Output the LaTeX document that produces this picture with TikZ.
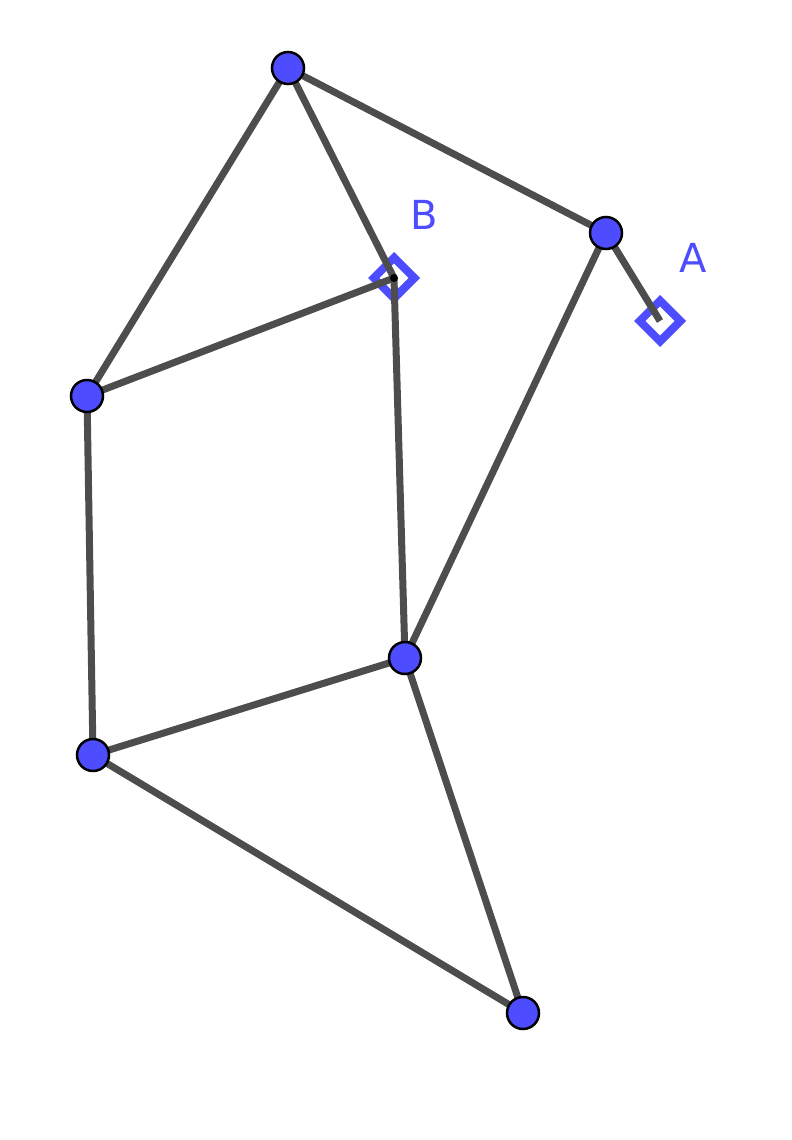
\documentclass[tikz,border=0pt]{standalone}
\usepackage{fontspec}
\setmainfont{DejaVu Sans}
\usetikzlibrary{shapes.geometric}
\definecolor{pt}{HTML}{4D4DFF}
\definecolor{ed}{HTML}{4D4D4D}
\tikzset{
  vert/.style={circle,fill=pt,draw=black,line width=2.5pt,minimum size=32pt,inner sep=0pt},
  dia/.style={diamond,draw=pt,fill=white,line width=8pt,minimum size=44pt,inner sep=0pt},
  edge/.style={draw=ed,line width=7pt},
  lab/.style={text=pt,font=\fontsize{40}{40}\selectfont}
}
\begin{document}
\begin{tikzpicture}[x=1pt,y=-1pt]
\useasboundingbox (0,0) rectangle (792,1140);
\coordinate (T) at (288,68);
\coordinate (R) at (606,233);
\coordinate (L) at (87,396);
\coordinate (M) at (405,658);
\coordinate (BL) at (93,755);
\coordinate (Bo) at (523,1013);
\coordinate (A) at (660,321);
\coordinate (B) at (394,278);
\node[dia] (Ad) at (A) {};
\node[dia] (Bd) at (B) {};
\foreach \a/\b in {T/L,T/R,T/B,B/L,B/M,R/M,R/A,L/BL,BL/M,BL/Bo,M/Bo}
  \draw[edge] (\a) -- (\b);
\fill[black] (B) circle (4pt);
\foreach \n in {T,R,L,M,BL,Bo} \node[vert] (v\n) at (\n) {};
\node[lab] (la) at (693,258) {A};
\node[lab] (lb) at (424,215) {B};
\end{tikzpicture}
\end{document}
